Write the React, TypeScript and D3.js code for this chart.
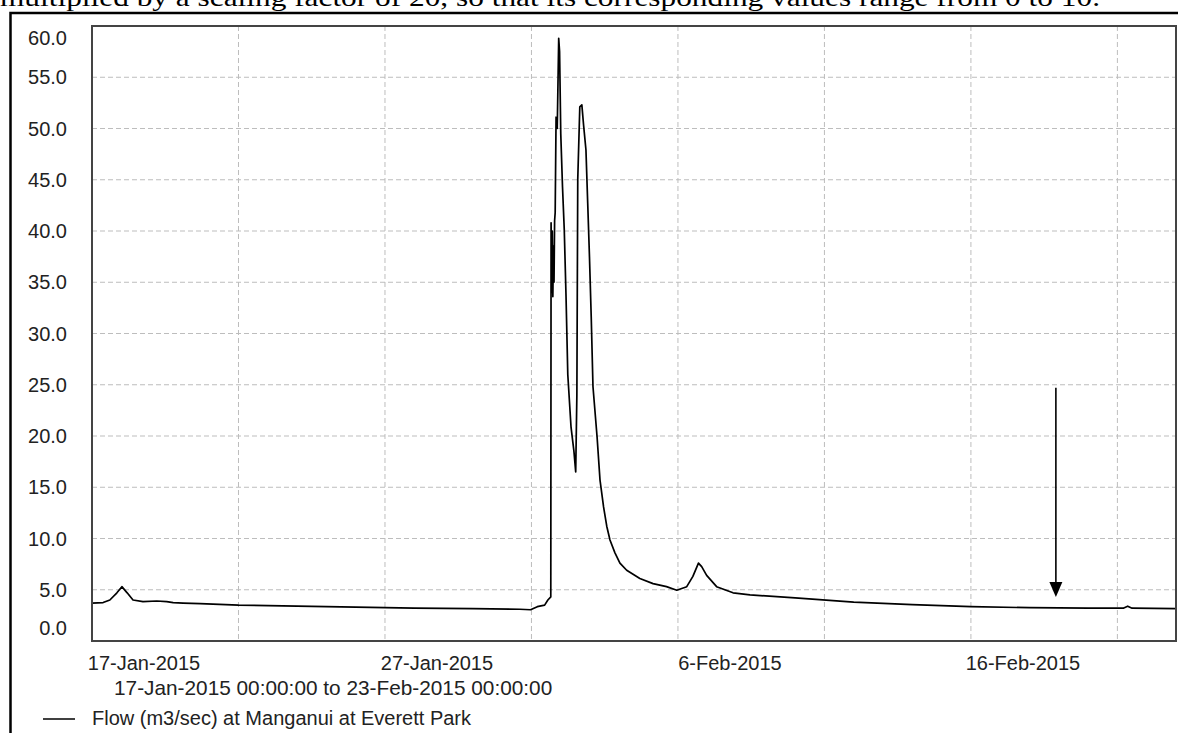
import React from "react";
import * as d3 from "d3";

// ---- data ----
const startDate = new Date(2015, 0, 17);
const endDate = new Date(2015, 1, 23);
// days since 17-Jan-2015 00:00
const flowDays: number[] = [
  0.0, 0.38, 0.61, 0.85, 1.02, 1.2, 1.4, 1.74, 2.21, 2.55, 2.77, 3.11, 3.69, 5.0, 7.0, 9.0, 11.0, 13.0,
  14.6, 14.97, 15.2, 15.45, 15.56, 15.66, 15.67, 15.69, 15.71, 15.73, 15.75, 15.77, 15.79, 15.81, 15.84,
  15.88, 15.93, 15.96, 16.0, 16.06, 16.12, 16.18, 16.24, 16.35, 16.45, 16.51, 16.55, 16.58, 16.65, 16.72,
  16.78, 16.86, 16.92, 16.98, 17.04, 17.1, 17.24, 17.34, 17.46, 17.57, 17.68, 17.85, 18.02, 18.25, 18.7,
  19.15, 19.61, 19.96, 20.3, 20.51, 20.7, 20.81, 20.98, 21.32, 21.88, 22.46, 24.0, 26.0, 28.0, 30.0, 32.0,
  34.0, 35.2, 35.35, 35.5, 37.0,
];
const flowValues: number[] = [
  3.7, 3.75, 4.0, 4.7, 5.3, 4.7, 4.0, 3.85, 3.9, 3.85, 3.75, 3.7, 3.65, 3.5, 3.4, 3.3, 3.2, 3.15,
  3.1, 3.05, 3.35, 3.5, 4.0, 4.3, 40.8, 34.0, 40.0, 33.6, 38.5, 35.0, 41.0, 41.8, 51.1,
  50.0, 58.8, 57.5, 49.5, 44.3, 40.1, 33.6, 26.0, 20.9, 18.5, 16.5, 24.0, 45.0, 52.1, 52.3,
  50.3, 47.9, 42.7, 37.5, 31.6, 24.8, 19.9, 15.7, 13.1, 11.2, 9.85, 8.6, 7.6, 6.9, 6.1,
  5.6, 5.3, 4.95, 5.3, 6.3, 7.6, 7.25, 6.4, 5.3, 4.7, 4.5, 4.2, 3.8, 3.55, 3.35, 3.25,
  3.2, 3.2, 3.4, 3.2, 3.15,
];
const yTicks: number[] = [0, 5, 10, 15, 20, 25, 30, 35, 40, 45, 50, 55, 60];
const gridDays: number[] = [5, 10, 15, 20, 25, 30, 35];
const labelDays: number[] = [0, 10, 20, 30];
const labelTexts: string[] = ["17-Jan-2015", "27-Jan-2015", "6-Feb-2015", "16-Feb-2015"];
const rangeText = "17-Jan-2015 00:00:00 to 23-Feb-2015 00:00:00";
const legendText = "Flow (m3/sec) at Manganui at Everett Park";
const topText =
  "multiplied by a scaling factor of 20, so that its corresponding values range from 0 to 10.";
// arrow annotation (day, from value, to value)
const arrowDay = 32.9;
const arrowFrom = 24.7;
const arrowTo = 4.3;

const W = 1178;
const H = 733;
const plot = { left: 92, right: 1176, top: 26, bottom: 641 };
const FONT = "'Liberation Sans', Arial, sans-serif";

const addDays = (d: number) => new Date(startDate.getTime() + d * 86400000);

export default function App() {
  const x = d3.scaleTime().domain([startDate, endDate]).range([plot.left, plot.right]);
  const y = d3.scaleLinear().domain([0, 60]).range([plot.bottom, plot.top]);
  const pts = flowDays.map((d, i) => [d, flowValues[i]] as [number, number]);
  const line = d3
    .line<[number, number]>()
    .x((p) => x(addDays(p[0])))
    .y((p) => y(p[1]));

  const ax = x(addDays(arrowDay));
  const aTop = y(arrowFrom);
  const aTip = y(arrowTo);
  const headH = 15;
  const headW = 13;

  return (
    <svg
      width={W}
      height={H}
      style={{ position: "absolute", left: 0, top: 0, background: "#fff" }}
    >
      <rect x={0} y={0} width={W} height={H} fill="#fff" />
      <text
        x={0}
        y={6}
        fontFamily="'Liberation Serif', 'DejaVu Serif', serif"
        fontSize={26}
        fill="#000"
        textLength={1100}
        lengthAdjust="spacingAndGlyphs"
      >
        {topText}
      </text>
      {/* outer frame */}
      <path d={`M10.5,${H + 5} V13 H${W + 5}`} fill="none" stroke="#000" strokeWidth={2.5} />

      {/* gridlines */}
      {yTicks
        .filter((v) => v > 0 && v < 60)
        .map((v) => (
          <line
            key={"hy" + v}
            x1={plot.left}
            x2={plot.right}
            y1={y(v)}
            y2={y(v)}
            stroke="#bdbdbd"
            strokeWidth={1}
            strokeDasharray="5,3"
          />
        ))}
      {gridDays.map((d) => (
        <line
          key={"gx" + d}
          x1={x(addDays(d))}
          x2={x(addDays(d))}
          y1={plot.top}
          y2={plot.bottom}
          stroke="#bdbdbd"
          strokeWidth={1}
          strokeDasharray="5,3"
        />
      ))}

      {/* data line */}
      <path d={line(pts) || ""} fill="none" stroke="#000" strokeWidth={1.7} strokeLinejoin="round" />

      {/* plot border */}
      <rect
        x={plot.left}
        y={plot.top}
        width={plot.right - plot.left}
        height={plot.bottom - plot.top}
        fill="none"
        stroke="#444"
        strokeWidth={2}
      />

      {/* y labels */}
      {yTicks.map((v) => {
        const cy = Math.min(Math.max(y(v), 38), 628);
        return (
          <text
            key={"yl" + v}
            x={67}
            y={cy + 7}
            textAnchor="end"
            fontFamily={FONT}
            fontSize={20}
            fill="#222"
          >
            {v.toFixed(1)}
          </text>
        );
      })}

      {/* x labels */}
      {labelDays.map((d, i) => (
        <text
          key={"xl" + d}
          x={x(addDays(d)) + 52}
          y={670}
          textAnchor="middle"
          fontFamily={FONT}
          fontSize={20}
          fill="#222"
        >
          {labelTexts[i]}
        </text>
      ))}
      <text x={114} y={695} fontFamily={FONT} fontSize={20.8} fill="#222">
        {rangeText}
      </text>

      {/* legend */}
      <line x1={43} x2={75} y1={719} y2={719} stroke="#000" strokeWidth={1.5} />
      <text x={92} y={725} fontFamily={FONT} fontSize={20} fill="#222">
        {legendText}
      </text>

      {/* arrow annotation */}
      <line x1={ax} x2={ax} y1={aTop} y2={aTip - headH + 1} stroke="#000" strokeWidth={1.6} />
      <path
        d={`M${ax - headW / 2},${aTip - headH} L${ax + headW / 2},${aTip - headH} L${ax},${aTip} Z`}
        fill="#000"
      />
    </svg>
  );
}
